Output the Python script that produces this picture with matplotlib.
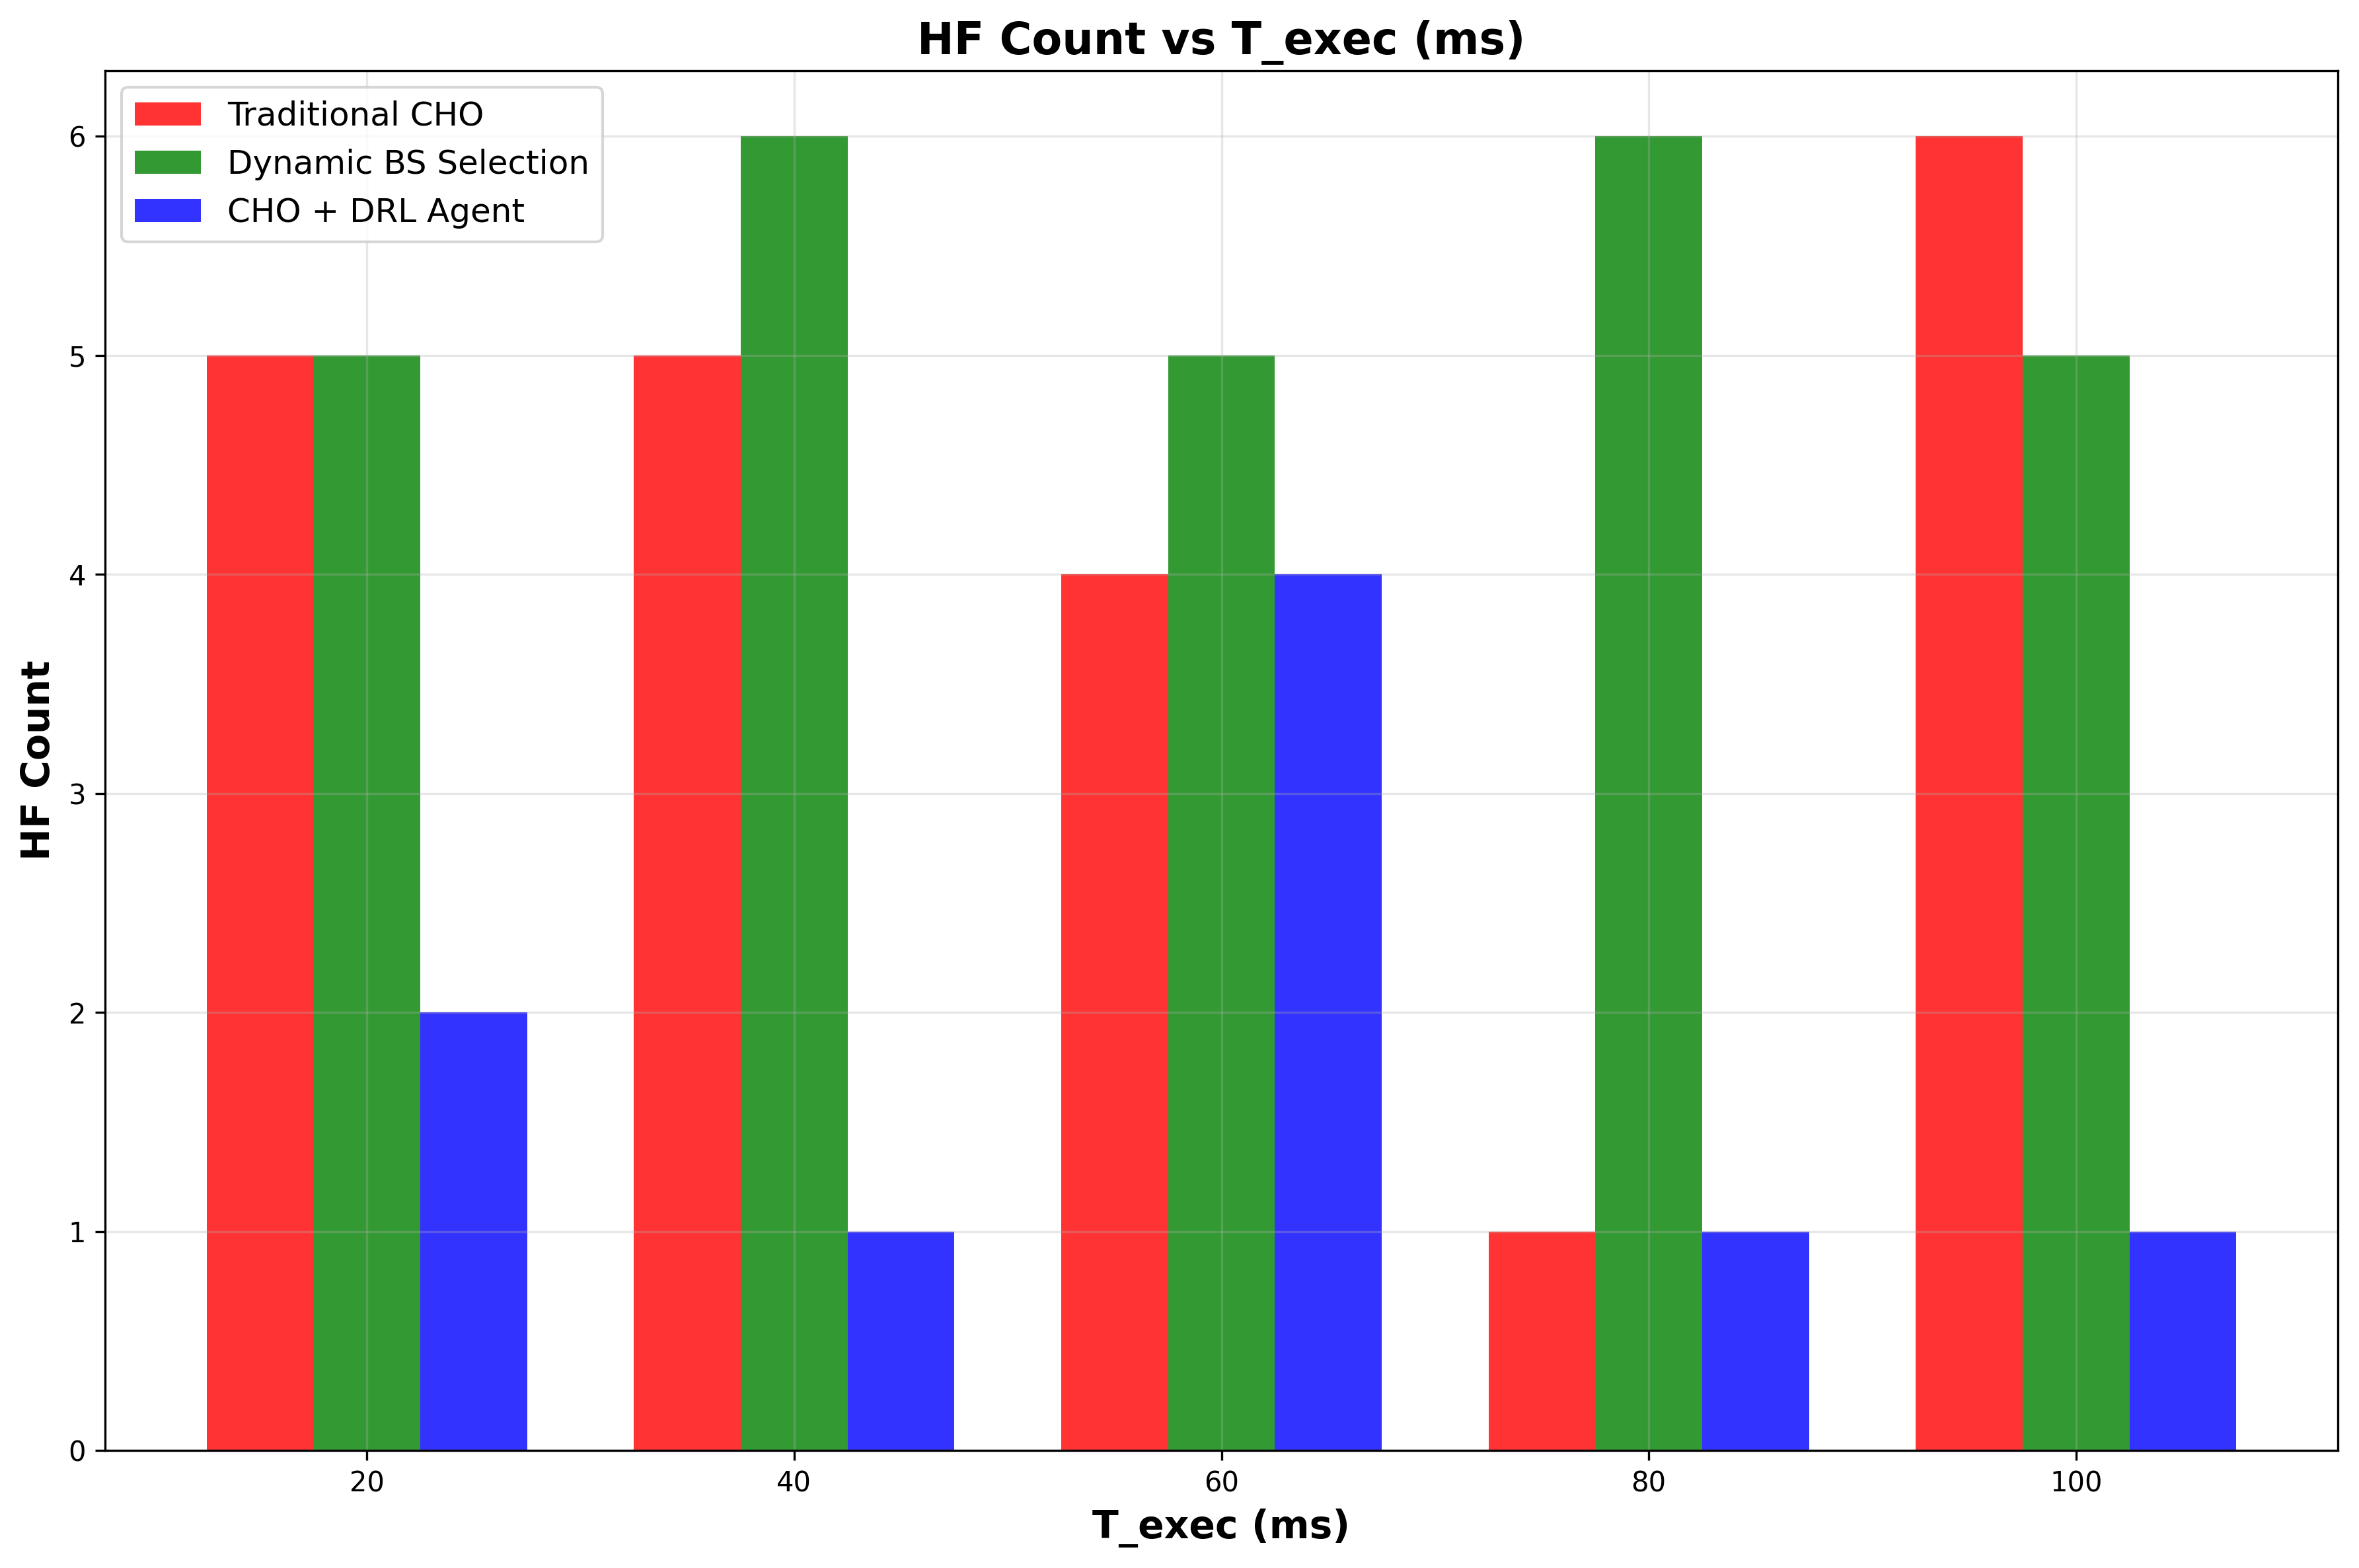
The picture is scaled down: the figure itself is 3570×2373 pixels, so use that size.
import numpy as np
import matplotlib.pyplot as plt

t_exec = [20, 40, 60, 80, 100]
traditional_cho = [5, 5, 4, 1, 6]
dynamic_bs = [5, 6, 5, 6, 5]
cho_drl = [2, 1, 4, 1, 1]

fig, ax = plt.subplots(figsize=(11.9, 7.91), dpi=300)
fig.subplots_adjust(left=0.0446, right=0.991, top=0.955, bottom=0.075)

x = np.array(t_exec)
w = 5
ax.bar(x - w, traditional_cho, w, color='red', alpha=0.8, label='Traditional CHO')
ax.bar(x, dynamic_bs, w, color='green', alpha=0.8, label='Dynamic BS Selection')
ax.bar(x + w, cho_drl, w, color='blue', alpha=0.8, label='CHO + DRL Agent')

ax.set_xlabel('T_exec (ms)', fontsize=14, fontweight='bold')
ax.set_ylabel('HF Count', fontsize=14, fontweight='bold')
ax.set_title('HF Count vs T_exec (ms)', fontsize=16, fontweight='bold')
ax.set_xticks(x)
ax.legend(loc='upper left', fontsize=12)
ax.grid(True, alpha=0.3)

fig.savefig('out.png', dpi=300)
